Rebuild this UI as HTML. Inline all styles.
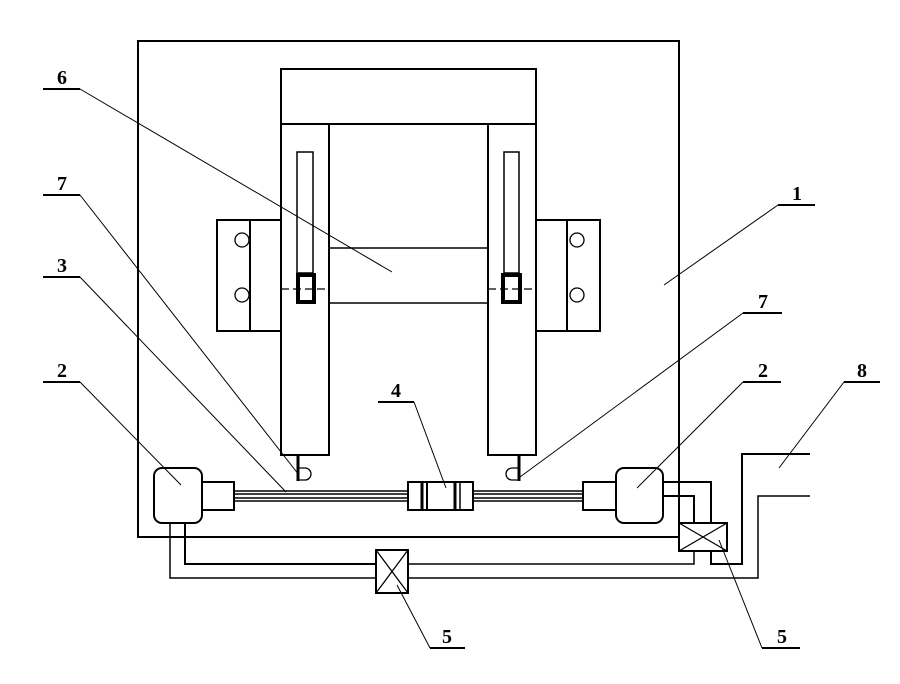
<!DOCTYPE html>
<html><head><style>html,body{margin:0;padding:0;background:#fff}svg{display:block}</style></head><body>
<svg width="900" height="684" viewBox="0 0 900 684" xmlns="http://www.w3.org/2000/svg" font-family="Liberation Serif, serif" font-weight="bold" font-size="20">
<g fill="none" stroke="#000" stroke-width="2">
<!-- frame -->
<polyline points="679,523 679,41 138,41 138,537 679,537"/>
<!-- top bar -->
<rect x="281" y="69" width="255" height="55"/>
<!-- columns -->
<rect x="281" y="124" width="48" height="331"/>
<rect x="488" y="124" width="48" height="331"/>
<!-- middle band -->
<line x1="329" y1="248" x2="488" y2="248" stroke-width="1.5"/>
<line x1="329" y1="303" x2="488" y2="303" stroke-width="1.5"/>
<!-- side blocks -->
<rect x="217" y="220" width="64" height="111"/>
<line x1="250" y1="220" x2="250" y2="331"/>
<rect x="536" y="220" width="64" height="111"/>
<line x1="567" y1="220" x2="567" y2="331"/>
<g stroke-width="1.3">
<circle cx="242" cy="240" r="7"/><circle cx="242" cy="295" r="7"/>
<circle cx="577" cy="240" r="7"/><circle cx="577" cy="295" r="7"/>
</g>
<!-- slots -->
<rect x="297" y="152" width="16" height="121" stroke-width="1.5"/>
<rect x="504" y="152" width="15" height="121" stroke-width="1.5"/>
<rect x="298" y="275" width="16" height="27" stroke-width="4"/>
<rect x="503" y="275" width="17" height="27" stroke-width="4"/>
<line x1="281" y1="289" x2="329" y2="289" stroke-width="1.3" stroke-dasharray="8,4"/>
<line x1="488" y1="289" x2="536" y2="289" stroke-width="1.3" stroke-dasharray="8,4"/>
<!-- sensors -->
<line x1="298" y1="455" x2="298" y2="481" stroke-width="3"/>
<path d="M299,468 h6 a6,6 0 0 1 0,12 h-6" stroke-width="1.3"/>
<line x1="519" y1="455" x2="519" y2="481" stroke-width="3"/>
<path d="M518,468 h-6 a6,6 0 0 0 0,12 h6" stroke-width="1.3"/>
<!-- motors -->
<rect x="154" y="468" width="48" height="55" rx="8"/>
<rect x="202" y="482" width="32" height="28"/>
<rect x="616" y="468" width="47" height="55" rx="8"/>
<rect x="583" y="482" width="33" height="28"/>
<!-- rod -->
<g stroke-width="1.5">
<line x1="234" y1="491" x2="408" y2="491"/><line x1="234" y1="494" x2="408" y2="494"/>
<line x1="234" y1="498" x2="408" y2="498"/><line x1="234" y1="501" x2="408" y2="501"/>
<line x1="473" y1="491" x2="583" y2="491"/><line x1="473" y1="494" x2="583" y2="494"/>
<line x1="473" y1="498" x2="583" y2="498"/><line x1="473" y1="501" x2="583" y2="501"/>
</g>
<!-- coupler -->
<rect x="408" y="482" width="65" height="28"/>
<line x1="422" y1="482" x2="422" y2="510" stroke-width="3"/>
<line x1="427" y1="482" x2="427" y2="510" stroke-width="2"/>
<line x1="455" y1="482" x2="455" y2="510" stroke-width="3"/>
<line x1="460" y1="482" x2="460" y2="510" stroke-width="1.5"/>
<!-- pipes -->
<polyline points="663,482 711,482 711,523"/>
<polyline points="663,496 694,496 694,523"/>
<rect x="679" y="523" width="48" height="28"/>
<line x1="679" y1="523" x2="727" y2="551" stroke-width="1.3"/>
<line x1="727" y1="523" x2="679" y2="551" stroke-width="1.3"/>
<polyline points="185,523 185,564 376,564"/>
<polyline points="408,564 694,564 694,551" stroke-width="1.5"/>
<polyline points="170,523 170,578 376,578" stroke-width="1.5"/>
<polyline points="408,578 758,578 758,496 810,496" stroke-width="1.5"/>
<polyline points="711,551 711,564 742,564 742,454 810,454"/>
<rect x="376" y="550" width="32" height="43"/>
<line x1="376" y1="550" x2="408" y2="593" stroke-width="1.3"/>
<line x1="408" y1="550" x2="376" y2="593" stroke-width="1.3"/>
</g>
<!-- leader lines -->
<g fill="none" stroke="#000" stroke-width="1">
<line x1="43" y1="89" x2="80" y2="89" stroke-width="2"/><line x1="80" y1="89" x2="392" y2="272"/>
<line x1="43" y1="195" x2="80" y2="195" stroke-width="2"/><line x1="80" y1="195" x2="299" y2="475"/>
<line x1="43" y1="277" x2="80" y2="277" stroke-width="2"/><line x1="80" y1="277" x2="286" y2="492"/>
<line x1="43" y1="382" x2="80" y2="382" stroke-width="2"/><line x1="80" y1="382" x2="181" y2="485"/>
<line x1="378" y1="402" x2="414" y2="402" stroke-width="2"/><line x1="414" y1="402" x2="446" y2="488"/>
<line x1="778" y1="205" x2="815" y2="205" stroke-width="2"/><line x1="778" y1="205" x2="664" y2="285"/>
<line x1="743" y1="313" x2="782" y2="313" stroke-width="2"/><line x1="743" y1="313" x2="520" y2="477"/>
<line x1="743" y1="382" x2="781" y2="382" stroke-width="2"/><line x1="743" y1="382" x2="637" y2="488"/>
<line x1="844" y1="382" x2="880" y2="382" stroke-width="2"/><line x1="844" y1="382" x2="779" y2="468"/>
<line x1="430" y1="648" x2="465" y2="648" stroke-width="2"/><line x1="430" y1="648" x2="397" y2="585"/>
<line x1="762" y1="648" x2="800" y2="648" stroke-width="2"/><line x1="762" y1="648" x2="719" y2="540"/>
</g>
<g fill="#000" text-anchor="middle">
<text x="62" y="84">6</text>
<text x="62" y="190">7</text>
<text x="62" y="272">3</text>
<text x="62" y="377">2</text>
<text x="396" y="397">4</text>
<text x="797" y="200">1</text>
<text x="763" y="308">7</text>
<text x="763" y="377">2</text>
<text x="862" y="377">8</text>
<text x="447" y="643">5</text>
<text x="782" y="643">5</text>
</g>
</svg>
</body></html>
